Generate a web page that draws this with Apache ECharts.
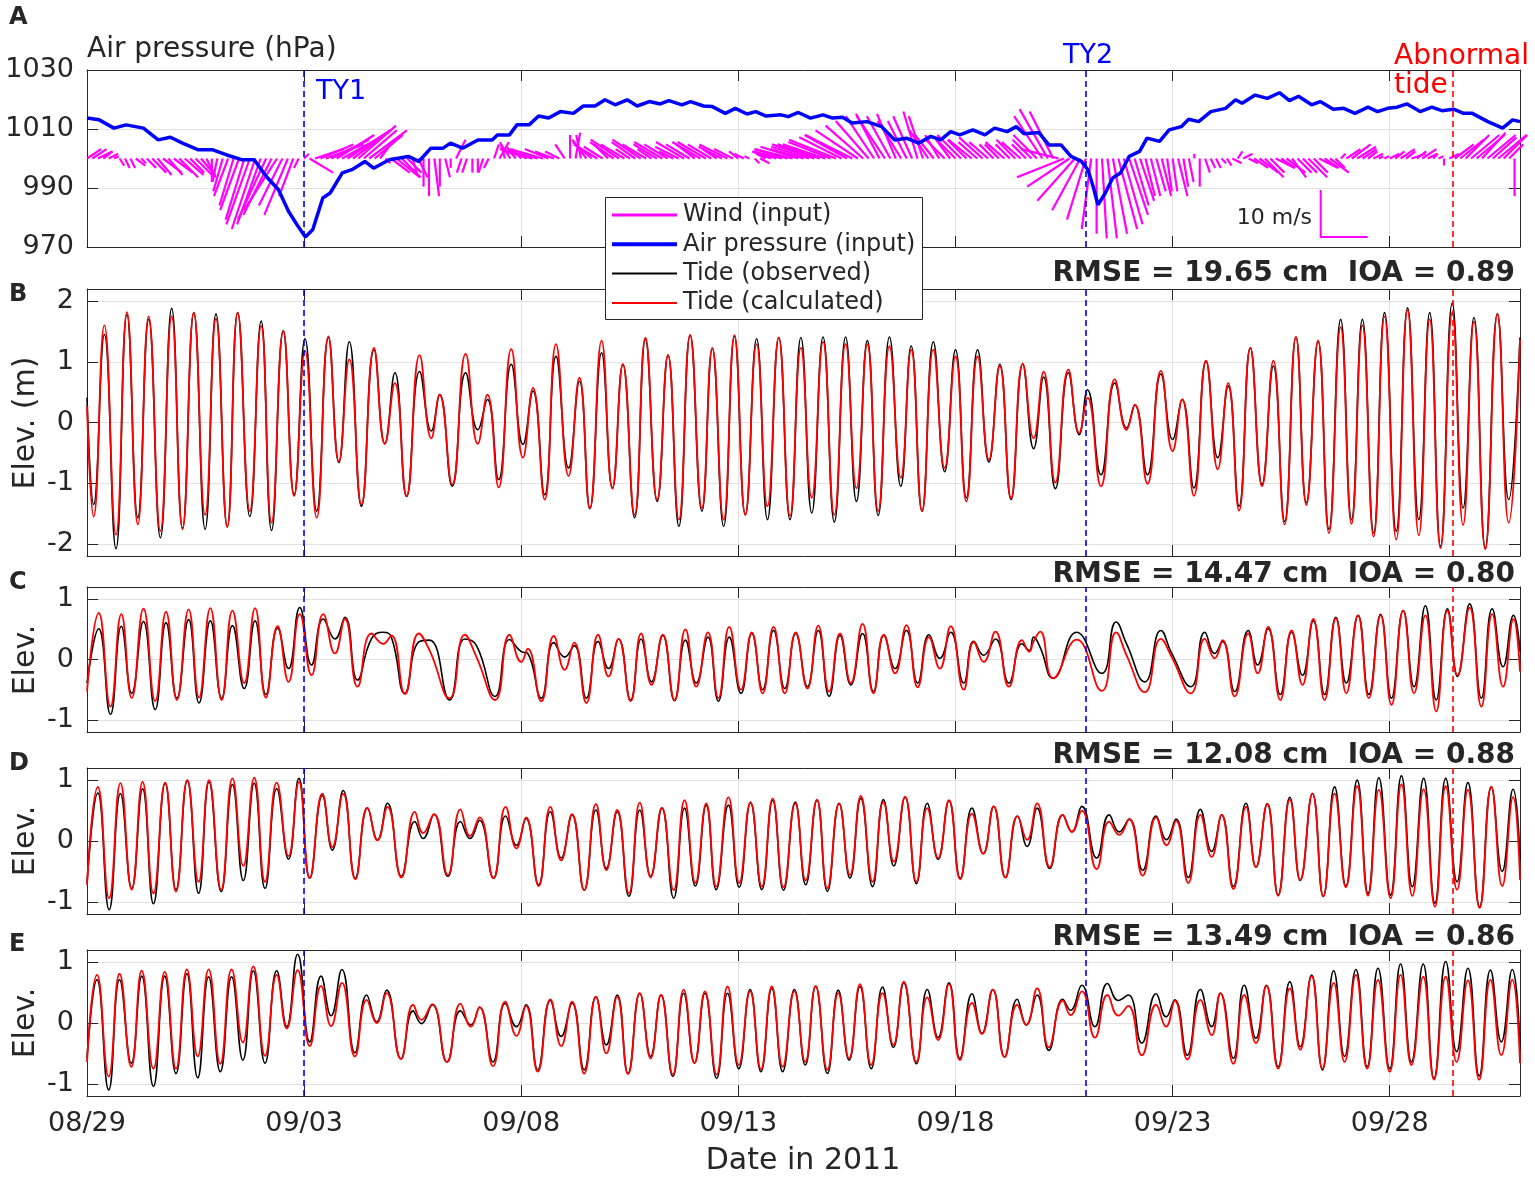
<!DOCTYPE html>
<html>
<head>
<meta charset="utf-8">
<script src="https://cdn.jsdelivr.net/npm/echarts@6/dist/echarts.min.js"></script>
<style>
  html, body { margin: 0; padding: 0; background: #fff; }
  #chart { width: 1535px; height: 1177px; }
</style>
</head>
<body>
<div id="chart"></div>
<script>
// x in days since 08/29 00:00 (2011)
var xTickLabels = ['08/29', '09/03', '09/08', '09/13', '09/18', '09/23', '09/28'];
var pTickLabels = ['970', '990', '1010', '1030'];
var eventDays = [5.0, 23.0, 31.44];   // TY1, TY2, abnormal tide

// air pressure (hPa)
var pT = [0.00,0.28,0.62,0.90,1.30,1.64,1.92,2.20,2.55,2.88,3.22,3.56,3.85,4.13,4.41,4.64,4.86,5.03,5.20,5.43,
  5.60,5.88,6.10,6.40,6.60,6.96,7.40,7.64,7.92,8.20,8.37,8.65,9.00,9.33,9.45,9.73,9.90,10.18,10.40,10.63,
  10.90,11.20,11.43,11.70,11.93,12.16,12.44,12.67,12.95,13.20,13.40,13.70,13.90,14.20,14.40,14.70,14.93,15.20,15.40,15.64,
  15.98,16.15,16.38,16.66,16.95,17.17,17.40,17.62,17.96,18.30,18.60,18.87,19.15,19.43,19.66,19.89,20.10,20.40,20.68,20.90,
  21.19,21.40,21.58,21.92,22.15,22.43,22.66,22.90,23.05,23.17,23.28,23.45,23.62,23.80,24.00,24.24,24.41,24.70,24.92,25.20,
  25.37,25.60,25.88,26.22,26.45,26.60,26.90,27.18,27.46,27.69,27.90,28.20,28.40,28.70,28.94,29.20,29.50,29.72,29.95,30.17,
  30.40,30.70,30.97,31.20,31.47,31.70,31.90,32.26,32.60,32.83,33.00];
var pV = [1013.7,1013.1,1010.3,1011.4,1010.3,1006.3,1007.2,1005.2,1003.0,1003.0,1001.2,999.6,999.6,993.9,989.4,982.1,977.0,973.4,975.9,986.6,
  988.3,995.1,996.2,999.0,996.7,999.6,1000.7,999.0,1003.5,1003.5,1005.2,1003.5,1006.3,1006.3,1008.0,1008.0,1011.4,1011.4,1014.4,1013.7,
  1015.9,1015.3,1017.8,1017.8,1019.9,1018.2,1019.9,1017.8,1019.3,1018.5,1019.6,1018.2,1019.3,1017.8,1017.6,1015.3,1017.0,1015.1,1015.9,1014.4,
  1014.8,1014.2,1015.6,1013.7,1014.8,1013.7,1014.0,1012.0,1012.5,1010.8,1006.3,1006.9,1005.2,1007.5,1006.3,1009.1,1008.0,1009.7,1008.0,1010.3,
  1009.1,1010.8,1008.4,1008.8,1004.6,1004.6,1000.7,999.0,996.2,990.5,984.3,988.3,993.4,995.1,1000.7,1002.4,1006.9,1005.8,1009.7,1010.8,
  1013.3,1012.5,1015.9,1017.0,1019.9,1018.7,1021.5,1020.4,1022.3,1019.6,1021.1,1018.2,1019.3,1016.7,1017.0,1015.3,1017.4,1015.9,1017.0,1017.4,
  1018.5,1015.9,1017.4,1016.2,1016.7,1015.3,1015.3,1012.5,1010.3,1013.1,1012.5];

// wind (m/s), 3-hourly records from 08/29 00:00, one row per day
var windStepDays = 0.125;
var windU = [
  3,3,3,2,2,1,1,1,
  1,2,1,2,3,3,4,3,
  4,4,4,3,4,3,2,0,
  -1,-2,-3,-3,-4,-4,-5,-5,
  -5,-6,-6,-7,-5,-5,-3,-1,
  1,5,6,7,8,8,8,9,
  9,8,8,7,8,6,3,1,
  4,5,4,3,1,2,0,0,
  1,0,1,0,2,-1,-1,0,
  0,-1,-1,1,2,-1,-2,-2,
  -2,-4,-6,-8,-7,-5,-4,-3,
  -2,0,1,-1,-3,-4,-5,-4,
  -3,-5,-6,-5,-3,-5,-6,-5,
  -3,-5,-6,-5,-3,-5,-6,-5,
  -4,-6,-6,-5,-3,-5,-6,-4,
  -2,-2,-1,1,2,-2,-4,-5,
  -6,-7,-8,-8,-7,-8,-9,-9,
  -9,-9,-10,-9,-9,-10,-9,-8,
  -7,-6,-5,-6,-5,-4,-5,-4,
  -4,-3,-3,-4,-4,-3,-4,-3,
  -4,-5,-4,-5,-4,-5,-4,-3,
  -3,-4,-3,-4,-4,-3,-4,-5,
  -6,-6,-5,-8,-10,-9,-8,-6,
  -4,-2,0,1,2,3,4,4,
  4,3,3,2,2,2,2,1,
  1,2,1,1,0,0,1,1,
  1,1,1,2,1,2,2,3,
  4,4,3,4,3,4,3,3,
  3,4,3,4,3,4,2,1,
  3,4,4,3,2,2,1,1,
  2,2,3,2,3,2,3,2,
  1,1,0,2,4,5,5,6,
  6,5,6,5,6,5,3,0
];
var windV = [
  2,2,1.5,1.5,1,0.5,-1.5,-2,
  -2,-1.5,-1,-2,-3,-3.5,-3,-3.5,
  -3,-4,-3.5,-3,-4,-3.5,-4,-5,
  -5,-7,-8,-10,-11,-13,-14,-15,
  -14,-13,-12,-11,-10,-12,-8,-2,
  1,-3,2,3,3,4,5,5,
  6,6,7,6,6,5,4,-1,
  -3,-4,-4,-3,-3.5,-4,-6,-8,
  -8,-6,-4,-2,4,-3,-3,-3,
  -3,-3,-2,3,3.5,3.5,3,2.5,
  2,2,1.5,2,2,2,1.5,1.5,
  3,5,5.5,5,4,3.5,3,2.5,
  3,3.5,4,3,2,3.5,4,3,
  2,3,3.5,3,1.5,2.5,3.5,3,
  3,3.5,3.5,3,2,2.5,3,2,
  1.5,1,0.5,-1,-1,1,1.5,1.5,
  1.5,2,2,2.5,2,2.5,3,3,
  3,3.5,4,4.5,5,5,6,7,
  8,9,9.5,9,9,9.5,8,8,
  9,10,9,6,5,5,4,4,
  4,5,4,4,3.5,4.5,3.5,3,
  3,3.5,3,4,3.5,3,4,5,
  9,10.5,10,2,-4,-6,-9,-11,
  -13,-15,-16,-17,-17,-16,-15,-14,
  -12,-10,-9,-8,-8,-7,-8,-7,
  -7,-8,-6,-5,1,-6,-3,-2,
  -2,-1,-1.5,-1,1.5,1,-1,-2,
  -3,-4,-3,-2,-2,-3,-4,-3,
  -3,-4,-3,-2,-2,-3,-2,1,
  2,3,2.5,2,1.5,1,0.5,0.5,
  1,1.5,2,1.5,1,1.5,2,1,
  1,0.5,-1.5,1,3,4,5,5,
  5,5.5,5,4.5,5,5,3,-8
];
var scaleBar = [28.41, 973.4];   // corner of the 10 m/s key (day, hPa)

// tide extrema (m): panel B
var tB = [0,0.153,0.40,0.667,0.92,1.17,1.42,1.69,1.95,2.20,2.46,2.72,2.97,3.23,3.47,3.75,4.01,4.25,4.52,4.77,
  5.02,5.29,5.56,5.80,6.04,6.32,6.61,6.86,7.09,7.36,7.66,7.93,8.12,8.41,8.72,9.00,9.22,9.48,9.77,10.04,
  10.27,10.54,10.80,11.09,11.34,11.58,11.85,12.10,12.34,12.61,12.86,13.13,13.38,13.63,13.89,14.16,14.40,14.66,14.91,15.16,
  15.42,15.67,15.93,16.19,16.44,16.69,16.95,17.21,17.47,17.72,17.97,18.22,18.48,18.74,18.98,19.23,19.49,19.75,20.00,20.25,
  20.51,20.77,21.02,21.28,21.55,21.80,22.03,22.30,22.60,22.85,23.04,23.35,23.67,23.94,24.13,24.42,24.73,25.00,25.22,25.49,
  25.77,26.04,26.28,26.53,26.79,27.06,27.32,27.58,27.84,28.08,28.35,28.60,28.87,29.12,29.37,29.63,29.88,30.15,30.41,30.67,
  30.92,31.17,31.44,31.69,31.94,32.20,32.48,32.74,33.0];
var obsB = [0.41,-1.35,1.45,-2.08,1.78,-1.57,1.70,-1.90,1.88,-1.74,1.81,-1.76,1.79,-1.72,1.81,-1.55,1.67,-1.78,1.51,-1.19,
  1.38,-1.46,1.40,-0.66,1.33,-1.38,1.20,-0.35,0.82,-1.22,0.84,-0.14,0.46,-1.05,0.82,-0.12,0.38,-0.94,0.96,-0.36,
  0.52,-1.19,1.09,-0.75,0.68,-1.42,1.15,-1.08,0.96,-1.57,1.37,-1.30,1.11,-1.71,1.44,-1.46,1.22,-1.71,1.42,-1.52,
  1.38,-1.60,1.40,-1.60,1.40,-1.49,1.41,-1.64,1.41,-1.30,1.35,-1.53,1.41,-1.05,1.26,-1.46,1.33,-0.81,1.20,-1.24,
  1.20,-0.65,0.96,-1.27,0.96,-0.43,0.75,-1.09,0.82,-0.20,0.54,-0.86,0.65,-0.09,0.29,-0.86,0.80,-0.28,0.38,-1.08,
  1.01,-0.58,0.60,-1.38,1.23,-1.02,0.93,-1.63,1.41,-1.32,1.34,-1.76,1.70,-1.60,1.70,-1.82,1.81,-1.79,1.89,-1.60,
  1.81,-2.04,1.97,-1.41,1.73,-2.07,1.79,-1.27,1.40];
var calcB = [0.27,-1.55,1.60,-1.85,1.82,-1.68,1.75,-1.79,1.75,-1.76,1.81,-1.52,1.71,-1.72,1.81,-1.46,1.59,-1.65,1.51,-1.21,
  1.18,-1.57,1.42,-0.64,1.04,-1.35,1.23,-0.35,0.65,-1.21,1.11,-0.26,0.46,-1.02,1.13,-0.35,0.46,-1.07,1.21,-0.58,
  0.57,-1.27,1.29,-0.88,0.74,-1.41,1.35,-1.09,0.96,-1.52,1.40,-1.27,1.11,-1.60,1.44,-1.41,1.23,-1.60,1.44,-1.52,
  1.29,-1.38,1.40,-1.54,1.23,-1.24,1.33,-1.52,1.29,-1.08,1.29,-1.46,1.26,-0.91,1.20,-1.46,1.20,-0.75,1.09,-1.30,
  1.09,-0.61,0.93,-1.24,0.97,-0.26,0.84,-0.99,0.87,-0.17,0.41,-1.05,0.71,-0.12,0.29,-1.01,0.85,-0.47,0.38,-1.21,
  1.02,-0.77,0.65,-1.45,1.23,-1.05,1.02,-1.68,1.41,-1.36,1.35,-1.82,1.57,-1.67,1.60,-1.88,1.75,-1.93,1.85,-1.86,
  1.70,-2.07,1.81,-1.69,1.66,-2.09,1.78,-1.65,1.37];

// panel C
var tC = [0,0.27,0.54,0.79,1.03,1.30,1.57,1.82,2.07,2.34,2.58,2.84,3.10,3.35,3.62,3.87,4.12,4.39,4.64,4.90,
  5.17,5.44,5.71,5.94,6.23,6.55,6.82,7.01,7.32,7.64,7.89,8.35,8.70,8.97,9.40,9.73,10.00,10.15,10.46,10.75,
  11.00,11.22,11.50,11.77,12.01,12.24,12.52,12.76,13.00,13.26,13.53,13.78,14.03,14.30,14.54,14.79,15.06,15.31,15.56,15.81,
  16.07,16.32,16.59,16.84,17.09,17.34,17.59,17.86,18.11,18.35,18.61,18.87,19.13,19.39,19.64,19.89,20.19,20.42,20.65,20.92,
  21.23,21.53,21.70,21.80,21.95,22.25,22.79,23.37,23.70,23.94,24.36,24.73,24.98,25.42,25.74,25.97,26.15,26.43,26.74,26.96,
  27.20,27.48,27.74,27.99,28.24,28.50,28.76,29.00,29.27,29.52,29.79,30.04,30.31,30.56,30.82,31.07,31.33,31.56,31.84,32.11,
  32.36,32.61,32.85,33.0];
var obsC = [-0.39,0.51,-0.91,0.55,-0.56,0.63,-0.83,0.61,-0.64,0.66,-0.72,0.64,-0.64,0.56,-0.48,0.64,-0.58,0.52,-0.15,0.86,
  -0.09,0.67,0.34,0.70,-0.34,0.34,0.45,0.37,-0.56,0.29,0.32,-0.67,0.34,0.23,-0.61,0.33,0.13,0.10,-0.64,0.28,
  0.04,0.23,-0.64,0.30,-0.15,0.34,-0.67,0.34,-0.37,0.40,-0.68,0.32,-0.39,0.37,-0.69,0.37,-0.56,0.43,-0.50,0.48,
  -0.48,0.43,-0.45,0.48,-0.61,0.40,-0.42,0.43,-0.53,0.40,-0.15,0.48,-0.39,0.41,0.02,0.45,-0.39,0.30,0.07,0.34,
  -0.39,0.26,0.15,0.37,0.20,-0.31,0.45,-0.23,0.62,0.26,-0.37,0.48,0.10,-0.45,0.45,0.10,0.30,-0.53,0.48,-0.09,
  0.51,-0.58,0.45,-0.26,0.64,-0.58,0.70,-0.39,0.73,-0.58,0.75,-0.64,0.81,-0.45,0.89,-0.67,0.84,-0.28,0.92,-0.64,
  0.84,-0.12,0.73,0.13];
var calcC = [-0.53,0.77,-0.78,0.75,-0.64,0.84,-0.69,0.79,-0.67,0.83,-0.63,0.85,-0.67,0.81,-0.39,0.85,-0.63,0.55,-0.37,0.75,
  -0.26,0.75,0.10,0.67,-0.45,0.43,0.26,0.40,-0.57,0.43,0.15,-0.64,0.41,0.04,-0.67,0.41,-0.04,0.18,-0.69,0.39,
  -0.17,0.28,-0.72,0.41,-0.28,0.34,-0.69,0.43,-0.42,0.41,-0.67,0.50,-0.45,0.45,-0.64,0.54,-0.50,0.45,-0.56,0.54,
  -0.56,0.45,-0.48,0.56,-0.53,0.43,-0.39,0.59,-0.56,0.41,-0.23,0.57,-0.46,0.37,-0.15,0.55,-0.50,0.29,-0.04,0.46,
  -0.45,0.32,0.13,0.30,0.46,-0.31,0.33,-0.52,0.45,0.07,-0.54,0.34,0.04,-0.56,0.34,0.02,0.32,-0.61,0.43,-0.23,
  0.54,-0.67,0.48,-0.42,0.67,-0.67,0.68,-0.56,0.73,-0.64,0.73,-0.75,0.81,-0.56,0.73,-0.86,0.81,-0.26,0.86,-0.78,
  0.75,-0.45,0.67,-0.20];

// panel D
var tD = [0,0.25,0.51,0.77,1.03,1.28,1.53,1.80,2.05,2.31,2.57,2.81,3.09,3.35,3.60,3.85,4.10,4.37,4.64,4.88,
  5.13,5.42,5.65,5.90,6.18,6.46,6.69,6.92,7.24,7.55,7.74,7.99,8.31,8.60,8.82,9.04,9.36,9.64,9.89,10.11,
  10.40,10.67,10.92,11.17,11.45,11.72,11.96,12.21,12.48,12.73,12.98,13.24,13.51,13.76,14.01,14.26,14.49,14.77,15.02,15.28,
  15.54,15.79,16.04,16.31,16.55,16.81,17.05,17.32,17.57,17.82,18.09,18.34,18.58,18.84,19.10,19.35,19.60,19.85,20.11,20.38,
  20.64,20.88,21.15,21.43,21.65,21.88,22.17,22.47,22.68,22.91,23.25,23.54,23.77,24.00,24.31,24.62,24.86,25.08,25.36,25.64,
  25.90,26.13,26.40,26.69,26.92,27.18,27.43,27.70,27.94,28.22,28.47,28.73,28.99,29.25,29.50,29.75,30.02,30.27,30.52,30.78,
  31.04,31.29,31.55,31.80,32.07,32.34,32.59,32.84,33.0];
var obsD = [-0.70,0.79,-1.13,0.78,-0.78,0.86,-1.03,0.95,-0.80,0.99,-0.86,0.97,-0.83,0.93,-0.65,0.95,-0.78,0.86,-0.30,1.03,
  -0.61,0.75,-0.15,0.83,-0.61,0.54,0.02,0.62,-0.58,0.32,0.04,0.44,-0.58,0.32,0.04,0.34,-0.61,0.41,-0.07,0.37,
  -0.72,0.48,-0.28,0.43,-0.81,0.51,-0.45,0.48,-0.91,0.51,-0.58,0.54,-0.94,0.54,-0.74,0.59,-0.80,0.59,-0.76,0.63,
  -0.80,0.67,-0.81,0.64,-0.72,0.67,-0.83,0.62,-0.61,0.70,-0.75,0.68,-0.41,0.72,-0.70,0.62,-0.30,0.66,-0.61,0.54,
  -0.21,0.57,-0.60,0.41,-0.09,0.54,-0.45,0.43,0.15,0.57,-0.28,0.43,0.15,0.36,-0.48,0.41,0.02,0.36,-0.60,0.52,
  -0.17,0.43,-0.75,0.62,-0.43,0.61,-0.89,0.72,-0.65,0.78,-0.91,0.89,-0.74,1.00,-0.86,1.04,-0.89,1.07,-0.75,1.03,
  -1.02,1.03,-0.67,0.96,-1.08,0.89,-0.50,0.85,-0.31];
var calcD = [-0.72,0.89,-0.94,0.95,-0.80,0.97,-0.86,0.96,-0.83,1.00,-0.67,1.00,-0.80,1.03,-0.41,1.04,-0.67,0.96,-0.25,0.97,
  -0.61,0.78,-0.10,0.78,-0.63,0.55,0.01,0.56,-0.60,0.48,0.13,0.44,-0.56,0.52,0.08,0.39,-0.61,0.56,-0.12,0.39,
  -0.74,0.56,-0.32,0.44,-0.81,0.61,-0.48,0.51,-0.86,0.63,-0.60,0.55,-0.81,0.67,-0.69,0.62,-0.75,0.72,-0.69,0.64,
  -0.75,0.70,-0.76,0.62,-0.65,0.68,-0.78,0.61,-0.56,0.74,-0.67,0.64,-0.34,0.73,-0.67,0.54,-0.28,0.67,-0.63,0.45,
  -0.21,0.57,-0.60,0.41,0.02,0.62,-0.43,0.43,0.15,0.50,-0.46,0.32,0.10,0.36,-0.57,0.39,-0.07,0.33,-0.69,0.43,
  -0.26,0.43,-0.79,0.56,-0.43,0.61,-0.90,0.68,-0.64,0.78,-0.91,0.78,-0.76,0.90,-0.90,0.84,-0.94,0.93,-0.90,0.85,
  -1.08,0.90,-0.80,0.84,-1.10,0.89,-0.74,0.72,-0.64];

// panel E
var tE = [0,0.23,0.50,0.75,1.02,1.26,1.53,1.79,2.05,2.30,2.55,2.80,3.07,3.33,3.59,3.83,4.10,4.37,4.60,4.85,
  5.13,5.39,5.62,5.87,6.17,6.44,6.67,6.90,7.23,7.51,7.70,7.95,8.29,8.60,8.84,9.04,9.35,9.63,9.89,10.11,
  10.38,10.67,10.92,11.17,11.45,11.72,11.96,12.21,12.46,12.73,12.98,13.22,13.49,13.74,13.99,14.23,14.50,14.75,15.01,15.27,
  15.52,15.77,16.02,16.29,16.54,16.78,17.05,17.30,17.55,17.80,18.06,18.32,18.57,18.81,19.10,19.35,19.60,19.85,20.10,20.38,
  20.61,20.86,21.13,21.42,21.63,21.88,22.15,22.47,22.65,22.91,23.21,23.50,23.75,23.98,24.29,24.62,24.85,25.05,25.34,25.64,
  25.90,26.10,26.40,26.65,26.92,27.16,27.43,27.70,27.94,28.20,28.45,28.71,28.96,29.22,29.48,29.73,30.00,30.25,30.50,30.77,
  31.02,31.29,31.54,31.80,32.06,32.32,32.57,32.82,33.0];
var obsE = [-0.58,0.71,-1.10,0.71,-0.66,0.77,-1.04,0.77,-0.83,0.81,-0.90,0.76,-0.80,0.76,-0.61,0.86,-0.66,0.86,-0.06,1.13,
  -0.31,0.77,0.12,0.88,-0.49,0.46,0.02,0.54,-0.59,0.20,-0.01,0.30,-0.64,0.20,-0.03,0.26,-0.64,0.32,-0.06,0.30,
  -0.77,0.37,-0.22,0.33,-0.77,0.43,-0.36,0.46,-0.83,0.49,-0.55,0.46,-0.88,0.49,-0.66,0.49,-0.91,0.49,-0.75,0.55,
  -0.80,0.57,-0.80,0.55,-0.69,0.60,-0.83,0.54,-0.61,0.60,-0.75,0.59,-0.40,0.66,-0.67,0.55,-0.24,0.66,-0.58,0.48,
  -0.17,0.55,-0.56,0.39,-0.03,0.46,-0.45,0.39,0.21,0.62,-0.06,0.65,0.37,0.46,-0.33,0.48,0.10,0.38,-0.53,0.55,
  -0.06,0.49,-0.58,0.62,-0.25,0.62,-0.72,0.68,-0.39,0.79,-0.77,0.86,-0.55,0.88,-0.72,0.90,-0.75,0.97,-0.64,0.97,
  -0.91,1.01,-0.47,0.90,-0.87,0.87,-0.31,0.88,-0.44];
var calcE = [-0.64,0.79,-0.88,0.81,-0.72,0.86,-0.75,0.84,-0.75,0.88,-0.55,0.88,-0.67,0.88,-0.32,0.93,-0.54,0.79,-0.09,0.87,
  -0.38,0.61,-0.05,0.66,-0.55,0.38,0.00,0.49,-0.59,0.30,0.05,0.31,-0.64,0.32,-0.06,0.26,-0.71,0.35,-0.21,0.28,
  -0.80,0.39,-0.38,0.35,-0.83,0.43,-0.50,0.43,-0.84,0.49,-0.58,0.46,-0.85,0.55,-0.66,0.52,-0.85,0.60,-0.69,0.52,
  -0.76,0.60,-0.72,0.52,-0.64,0.61,-0.77,0.49,-0.58,0.64,-0.69,0.49,-0.36,0.68,-0.64,0.42,-0.28,0.64,-0.61,0.33,
  -0.18,0.55,-0.56,0.30,-0.03,0.57,-0.40,0.37,0.13,0.52,-0.24,0.46,0.12,0.28,-0.53,0.30,-0.06,0.37,-0.60,0.38,
  -0.20,0.49,-0.67,0.46,-0.33,0.61,-0.75,0.57,-0.44,0.77,-0.75,0.66,-0.64,0.79,-0.75,0.71,-0.80,0.79,-0.69,0.76,
  -0.93,0.76,-0.64,0.70,-0.93,0.71,-0.53,0.71,-0.66];

var statTexts = ['RMSE = 19.65 cm  IOA = 0.89', 'RMSE = 14.47 cm  IOA = 0.80',
  'RMSE = 12.08 cm  IOA = 0.88', 'RMSE = 13.49 cm  IOA = 0.86'];

// ---- styling / layout ----
var FONT = '"DejaVu Sans", sans-serif';
var INK = '#262626';
var GRID_LINE = '#e1e1e1';
var BLUE = '#0000ff', RED = '#ff0000', MAGENTA = '#ff00ff';
var P0 = 970;              // pressure axis drawn as hPa - 970 so ticks start at 0
var WIND_BASE = 1000;      // sticks hang from the 1000 hPa level
var DAY_PER_MS = 0.1082;   // 10 m/s key = 47 px horizontally
var HPA_PER_MS = 1.593;    // 10 m/s key = 47 px vertically

var layout = [
  { top: 70, height: 177 },
  { top: 289, height: 267 },
  { top: 587, height: 145 },
  { top: 768, height: 146 },
  { top: 950, height: 146 }
];
var yRanges = [[0, 60], [-2.2, 2.2], [-1.2, 1.2], [-1.2, 1.2], [-1.2, 1.2]];

function zip(t, v) {
  return t.map(function (x, i) { return [x, v[i]]; });
}
function isInt(v) { return Math.abs(v - Math.round(v)) < 1e-6; }

var grids = [], xAxes = [], yAxes = [];
layout.forEach(function (g, i) {
  grids.push({ left: 87, right: 15, top: g.top, height: g.height, containLabel: false });
  var tick = { show: true, inside: true, length: 11, lineStyle: { color: INK, width: 1 } };
  var line = { show: true, onZero: false, lineStyle: { color: INK, width: 1 } };
  xAxes.push({
    type: 'value', gridIndex: i, min: 0, max: 33, interval: 5,
    axisLine: line, axisTick: tick,
    axisLabel: {
      show: i === 4, color: INK, fontFamily: FONT, fontSize: 27, margin: 14,
      formatter: function (v) { return (isInt(v / 5) && xTickLabels[v / 5]) ? xTickLabels[v / 5] : ''; }
    },
    splitLine: { show: true, lineStyle: { color: GRID_LINE, width: 1 } }
  });
  xAxes.push({
    type: 'value', gridIndex: i, position: 'top', min: 0, max: 33, interval: 5,
    axisLine: line, axisTick: tick, axisLabel: { show: false }, splitLine: { show: false }
  });
  var r = yRanges[i];
  // A: interval 20 from 0; B-E: unit steps placed on whole metres
  var step = i === 0 ? { interval: 20 } : { minInterval: 1, maxInterval: 1 };
  var left = {
    type: 'value', gridIndex: i, min: r[0], max: r[1],
    axisLine: line, axisTick: tick,
    axisLabel: {
      color: INK, fontFamily: FONT, fontSize: 27, margin: 13,
      formatter: i === 0
        ? function (v) { return isInt(v / 20) ? pTickLabels[Math.round(v / 20)] : ''; }
        : function (v) { return isInt(v) ? String(Math.round(v)) : ''; }
    },
    splitLine: { show: true, lineStyle: { color: GRID_LINE, width: 1 } }
  };
  var right = {
    type: 'value', gridIndex: i, position: 'right', min: r[0], max: r[1],
    axisLine: line, axisTick: tick, axisLabel: { show: false }, splitLine: { show: false }
  };
  yAxes.push(Object.assign(left, step));
  yAxes.push(Object.assign(right, step));
});

function eventLines() {
  return {
    silent: true, symbol: ['none', 'none'], label: { show: false }, animation: false,
    data: eventDays.map(function (d, k) {
      return { xAxis: d, lineStyle: { color: k === 2 ? RED : BLUE, type: [6, 4], width: 1.6 } };
    })
  };
}

var windData = windU.map(function (u, i) { return [i * windStepDays, u, windV[i]]; });

var series = [];
series.push({
  type: 'custom', name: 'Wind (input)', xAxisIndex: 0, yAxisIndex: 0, z: 2, clip: false,
  data: windData,
  renderItem: function (params, api) {
    var t = api.value(0), u = api.value(1), v = api.value(2);
    var a = api.coord([t, WIND_BASE - P0]);
    var b = api.coord([t + u * DAY_PER_MS, WIND_BASE - P0 + v * HPA_PER_MS]);
    return { type: 'line', shape: { x1: a[0], y1: a[1], x2: b[0], y2: b[1] },
      style: { stroke: MAGENTA, lineWidth: 2.2 } };
  }
});
series.push({
  type: 'custom', name: 'key', xAxisIndex: 0, yAxisIndex: 0, z: 2, clip: false,
  data: [scaleBar],
  renderItem: function (params, api) {
    var t = api.value(0), p = api.value(1) - P0;
    var top = api.coord([t, p + 10 * HPA_PER_MS]);
    var c = api.coord([t, p]);
    var r = api.coord([t + 10 * DAY_PER_MS, p]);
    return { type: 'polyline', shape: { points: [top, c, r] },
      style: { stroke: MAGENTA, lineWidth: 2, fill: null } };
  }
});
series.push({
  type: 'line', name: 'Air pressure (input)', xAxisIndex: 0, yAxisIndex: 0, z: 3,
  data: zip(pT, pV.map(function (p) { return p - P0; })),
  showSymbol: false, symbol: 'none', lineStyle: { color: BLUE, width: 3.5 },
  markLine: eventLines()
});

var tide = [[tB, obsB, calcB], [tC, obsC, calcC], [tD, obsD, calcD], [tE, obsE, calcE]];
tide.forEach(function (p, k) {
  var gi = k + 1;
  series.push({
    type: 'line', name: 'Tide (observed)', xAxisIndex: gi * 2, yAxisIndex: gi * 2, z: 2,
    data: zip(p[0], p[1]), smooth: 0.5, symbol: 'none',
    lineStyle: { color: '#000000', width: 1.6 }
  });
  series.push({
    type: 'line', name: 'Tide (calculated)', xAxisIndex: gi * 2, yAxisIndex: gi * 2, z: 3,
    data: zip(p[0], p[2]), smooth: 0.5, symbol: 'none',
    lineStyle: { color: RED, width: 1.8 },
    markLine: eventLines()
  });
});

function txt(x, y, s, size, opts) {
  opts = opts || {};
  return {
    type: 'text', x: x, y: y, rotation: opts.rot || 0, z: 100,
    style: {
      text: s, fill: opts.color || INK, align: opts.align || 'left', verticalAlign: 'middle',
      font: (opts.bold ? 'bold ' : '') + size + 'px ' + FONT
    }
  };
}

var graphics = [
  txt(9, 18, 'A', 24, { bold: true }), txt(9, 295, 'B', 24, { bold: true }),
  txt(9, 583, 'C', 24, { bold: true }), txt(9, 764, 'D', 24, { bold: true }),
  txt(9, 945, 'E', 24, { bold: true }),
  txt(87, 50, 'Air pressure (hPa)', 28),
  txt(316, 92, 'TY1', 27, { color: BLUE }),
  txt(1063, 56, 'TY2', 27, { color: BLUE }),
  txt(1394, 57, 'Abnormal', 28, { color: RED }),
  txt(1394, 86, 'tide', 28, { color: RED }),
  txt(1312, 218, '10 m/s', 22, { align: 'right' }),
  txt(26, 423, 'Elev. (m)', 30, { align: 'center', rot: Math.PI / 2 }),
  txt(26, 660, 'Elev.', 30, { align: 'center', rot: Math.PI / 2 }),
  txt(26, 841, 'Elev.', 30, { align: 'center', rot: Math.PI / 2 }),
  txt(26, 1023, 'Elev.', 30, { align: 'center', rot: Math.PI / 2 }),
  txt(803, 1161, 'Date in 2011', 30, { align: 'center' })
];
[274, 575, 756, 938].forEach(function (y, k) {
  graphics.push(txt(1515, y, statTexts[k], 28, { bold: true, align: 'right' }));
});

// legend box
var legendItems = [
  ['Wind (input)', MAGENTA, 3], ['Air pressure (input)', BLUE, 4],
  ['Tide (observed)', '#000000', 2], ['Tide (calculated)', RED, 2]
];
graphics.push({ type: 'rect', z: 90, shape: { x: 605.5, y: 197.5, width: 317, height: 122 },
  style: { fill: '#ffffff', stroke: INK, lineWidth: 1 } });
legendItems.forEach(function (it, k) {
  var y = 215 + k * 29.3;
  graphics.push({ type: 'line', z: 95, shape: { x1: 612, y1: y, x2: 677, y2: y },
    style: { stroke: it[1], lineWidth: it[2] } });
  graphics.push(txt(683, y, it[0], 24));
});

var chart = echarts.init(document.getElementById('chart'), null, { renderer: 'canvas' });
chart.setOption({
  backgroundColor: '#ffffff',
  animation: false,
  grid: grids,
  xAxis: xAxes,
  yAxis: yAxes,
  series: series,
  graphic: graphics
});
</script>
</body>
</html>
